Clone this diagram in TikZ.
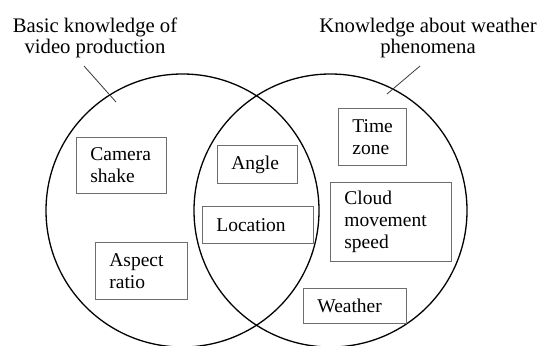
\documentclass[tikz,border=0pt]{standalone}
\usepackage{fontspec}
\setmainfont{Liberation Serif}
\usepackage{xcolor}
\usetikzlibrary{positioning,calc}
\definecolor{boxgray}{RGB}{110,110,110}
\definecolor{leadgray}{RGB}{60,60,60}

\begin{document}
\begin{tikzpicture}[
  x=1pt,y=-1pt,
  set/.style={draw=black,circle,minimum size=273pt,line width=1.3pt,inner sep=0pt},
  item/.style={draw=boxgray,line width=0.8pt,anchor=north west,align=left,
               inner xsep=14pt,inner ysep=0pt,
               font=\fontsize{19.5}{22}\selectfont},
  title/.style={align=center,inner sep=0pt,font=\fontsize{20.7}{21}\selectfont},
  lead/.style={draw=leadgray,line width=0.8pt},
]
\useasboundingbox (0,0) rectangle (540,345);

%% ── The two sets ─────────────────────────────────────────────────────────────
\node[set] (video)   at (182.5,210.5) {};
\node[set] (weather) at (330.5,210.5) {};

%% ── Set titles ───────────────────────────────────────────────────────────────
\node[title] (videotitle) at (95,38)
  {Basic knowledge of\\video production};
\node[title] (weathertitle) at (428,38)
  {Knowledge about weather\\phenomena};

\coordinate (videofrom)   at (84,66);
\coordinate (videoto)     at (116,102);
\coordinate (weatherfrom) at (420,66);
\coordinate (weatherto)   at (387,94);
\draw[lead] (videofrom) -- (videoto);
\draw[lead] (weatherfrom) -- (weatherto);

%% ── Video production only ────────────────────────────────────────────────────
\node[item,text width=62pt,minimum height=56pt] (shake) at (76,137)
  {Camera\\shake};
\node[item,text width=64pt,minimum height=57pt] (aspect) at (95,242)
  {Aspect\\ratio};

%% ── Shared ───────────────────────────────────────────────────────────────────
\node[item,text width=52pt,minimum height=38pt] (angle) at (217,145)
  {Angle};
\node[item,text width=83pt,minimum height=37pt] (location) at (202,206)
  {Location};

%% ── Weather only ─────────────────────────────────────────────────────────────
\node[item,text width=40pt,minimum height=57pt] (timezone) at (338,108)
  {Time\\zone};
\node[item,text width=93pt,minimum height=79pt] (cloud) at (330,182)
  {Cloud\\movement\\speed};
\node[item,text width=75pt,minimum height=35pt] (weathertag) at (303,288)
  {Weather};

\end{tikzpicture}
\end{document}
